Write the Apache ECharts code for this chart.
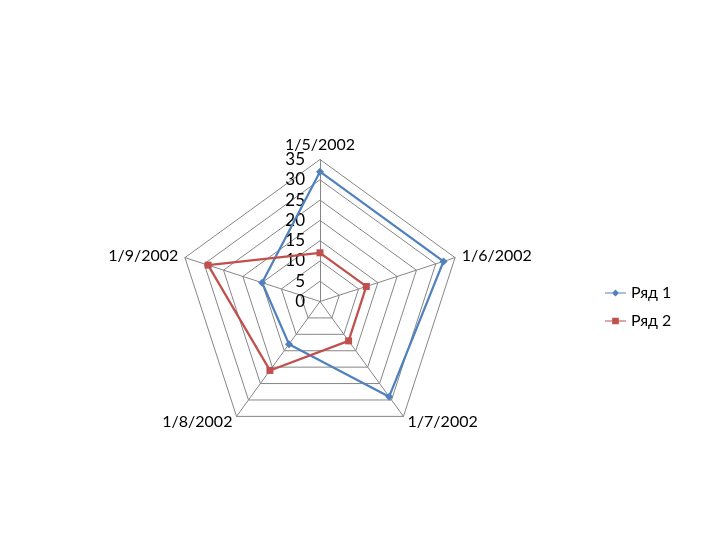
<!DOCTYPE html>
<html><head><meta charset="utf-8">
<script src="https://cdn.jsdelivr.net/npm/echarts@6/dist/echarts.min.js"></script>
<style>html,body{margin:0;padding:0;background:#fff}#c{width:720px;height:540px}</style>
</head><body><div id="c"></div>
<script>
const categories = ['1/5/2002','1/6/2002','1/7/2002','1/8/2002','1/9/2002'];
const series1 = [32, 32, 29, 13, 15];
const series2 = [12, 12, 12, 21, 29];
const seriesNames = ['Ряд 1','Ряд 2'];
const tickLabels = [0,5,10,15,20,25,30,35];

// ECharts radar runs counter-clockwise; reorder so categories go clockwise as in the reference
const order = [0,4,3,2,1];
const cats = order.map(i=>categories[i]);
const s1 = order.map(i=>series1[i]);
const s2 = order.map(i=>series2[i]);

const FONT = 'Lato';
const cx = 320, cy = 301.5, R = 142;
const chart = echarts.init(document.getElementById('c'));
chart.setOption({
  animation:false,
  textStyle:{fontFamily:FONT},
  legend:{
    orient:'vertical', left:600, top:280, itemGap:12, itemWidth:21, itemHeight:8,
    textStyle:{fontFamily:FONT,fontSize:16,color:'#000'},
    data:[
      {name:seriesNames[0], icon:'path://M0,3.4L21,3.4L21,4.6L0,4.6Z M10.5,0.5L14,4L10.5,7.5L7,4Z'},
      {name:seriesNames[1], icon:'path://M0,3.4L21,3.4L21,4.6L0,4.6Z M7.2,0.7L13.8,0.7L13.8,7.3L7.2,7.3Z'}
    ]
  },
  grid:{left:cx, top:cy-R, height:R, width:1},
  xAxis:{type:'value', show:false},
  yAxis:{type:'value', min:0, max:35, interval:5, position:'left',
    axisLine:{show:false}, axisTick:{show:false}, splitLine:{show:false},
    axisLabel:{margin:15, fontFamily:FONT, fontSize:17, color:'#000',
      formatter:v=>tickLabels.includes(v)?String(v):''}},
  radar:{
    center:[cx,cy], radius:R, startAngle:90, splitNumber:7, shape:'polygon',
    indicator:cats.map(c=>({name:c, min:0, max:35})),
    axisName:{color:'#000', fontFamily:FONT, fontSize:16},
    nameGap:7,
    axisLine:{lineStyle:{color:'#868686',width:1}},
    splitLine:{lineStyle:{color:'#868686',width:1}},
    splitArea:{show:false},
    axisTick:{show:false},
    axisLabel:{show:false}
  },
  series:[{
    type:'radar',
    data:[
      {name:seriesNames[0], value:s1, symbol:'diamond', symbolSize:8,
        lineStyle:{color:'#4F81BD',width:2.25}, itemStyle:{color:'#4F81BD'}},
      {name:seriesNames[1], value:s2, symbol:'rect', symbolSize:7,
        lineStyle:{color:'#C0504D',width:2.25}, itemStyle:{color:'#C0504D'}}
    ]
  }]
});
</script></body></html>
